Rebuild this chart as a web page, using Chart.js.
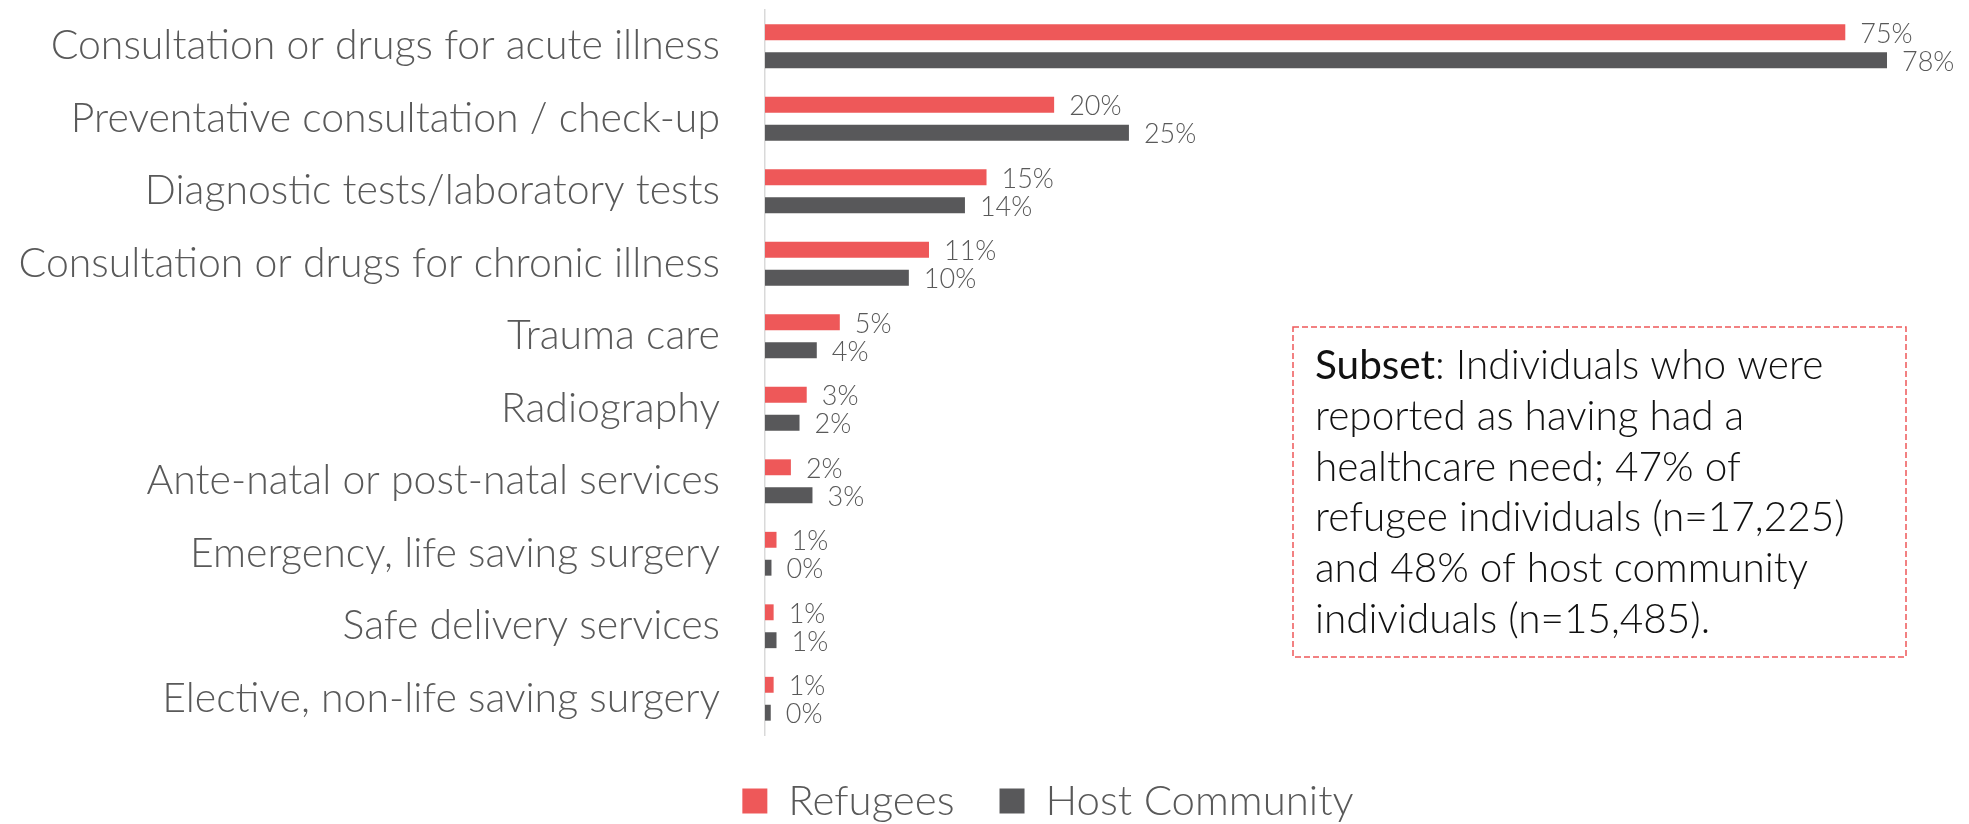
<!DOCTYPE html>
<html>
<head>
<meta charset="utf-8">
<script src="https://cdn.jsdelivr.net/npm/chart.js@4.4.1/dist/chart.umd.min.js"></script>
<style>
  html, body { margin: 0; padding: 0; background: #fff; }
  #wrap { width: 1969px; height: 824px; position: relative; overflow: hidden; }
</style>
</head>
<body>
<div id="wrap"><canvas id="myChart"></canvas></div>
<script>
// data
var categories = [
    'Consultation or drugs for acute illness',
    'Preventative consultation / check-up',
    'Diagnostic tests/laboratory tests',
    'Consultation or drugs for chronic illness',
    'Trauma care',
    'Radiography',
    'Ante-natal or post-natal services',
    'Emergency, life saving surgery',
    'Safe delivery services',
    'Elective, non-life saving surgery'
];
var refugees = [75.1, 20.1, 15.4, 11.4, 5.2, 2.9, 1.8, 0.8, 0.6, 0.6];
var hostCommunity = [78, 25.3, 13.9, 10, 3.6, 2.4, 3.3, 0.45, 0.8, 0.4];
var seriesNames = ['Refugees', 'Host Community'];
var noteLines = [
    'Individuals who were',
    'reported as having had a',
    'healthcare need; 47% of',
    'refugee individuals (n=17,225)',
    'and 48% of host community',
    'individuals (n=15,485).'
];

var RED = '#EE5859';
var GREY = '#58585A';
var FONT = 'Lato, "Open Sans", sans-serif';

// percentage labels at the end of each bar
var barLabels = {
    id: 'barLabels',
    afterDatasetsDraw: function(chart) {
        var ctx = chart.ctx;
        ctx.save();
        ctx.font = '300 27px ' + FONT;
        ctx.fillStyle = '#595959';
        ctx.textAlign = 'left';
        ctx.textBaseline = 'middle';
        chart.data.datasets.forEach(function(ds, i) {
            chart.getDatasetMeta(i).data.forEach(function(bar, j) {
                ctx.fillText(Math.round(ds.data[j]) + '%', bar.x + 15, bar.y + 2);
            });
        });
        ctx.restore();
    }
};

// dashed note box on the right
var noteBox = {
    id: 'noteBox',
    afterDraw: function(chart) {
        var ctx = chart.ctx;
        ctx.save();
        ctx.strokeStyle = RED;
        ctx.lineWidth = 1.5;
        ctx.setLineDash([6, 3]);
        ctx.strokeRect(1293, 327, 613, 330);
        ctx.setLineDash([]);
        ctx.fillStyle = '#111';
        ctx.textBaseline = 'alphabetic';
        ctx.textAlign = 'left';
        var x = 1315, y = 379;
        ctx.font = '400 40.5px ' + FONT;
        ctx.fillText('Subset', x, y);
        var w = ctx.measureText('Subset').width;
        ctx.font = '300 40.5px ' + FONT;
        ctx.fillText(': ' + noteLines[0], x + w, y);
        for (var i = 1; i < noteLines.length; i++) {
            ctx.fillText(noteLines[i], x, y + i * 50.8);
        }
        ctx.restore();
    }
};

new Chart(document.getElementById('myChart').getContext('2d'), {
    type: 'bar',
    data: {
        labels: categories,
        datasets: [
            { label: seriesNames[0], data: refugees, backgroundColor: RED,
              categoryPercentage: 0.77, barPercentage: 0.57 },
            { label: seriesNames[1], data: hostCommunity, backgroundColor: GREY,
              categoryPercentage: 0.77, barPercentage: 0.57 }
        ]
    },
    options: {
        indexAxis: 'y',
        responsive: true,
        maintainAspectRatio: false,
        animation: false,
        // right padding is negative so the legend centres where the original one sits
        layout: { padding: { top: 10, left: 0, right: -127, bottom: 0 } },
        scales: {
            x: {
                display: false,
                min: 0,
                max: 83.7
            },
            y: {
                grid: { display: false, drawTicks: false },
                border: { display: true, color: '#D9D9D9', width: 1.5 },
                ticks: {
                    padding: 45,
                    color: '#595959',
                    font: { family: FONT, size: 41, weight: '300' }
                },
                afterFit: function(scale) {
                    scale.width = 765;
                    scale.paddingTop = 0;
                    scale.paddingBottom = 0;
                }
            }
        },
        plugins: {
            tooltip: { enabled: false },
            legend: {
                position: 'bottom',
                maxHeight: 89,
                labels: {
                    boxWidth: 25,
                    boxHeight: 25,
                    padding: 45,
                    color: '#595959',
                    font: { family: FONT, size: 42, weight: '300' }
                }
            }
        }
    },
    plugins: [barLabels, noteBox]
});
</script>
</body>
</html>
